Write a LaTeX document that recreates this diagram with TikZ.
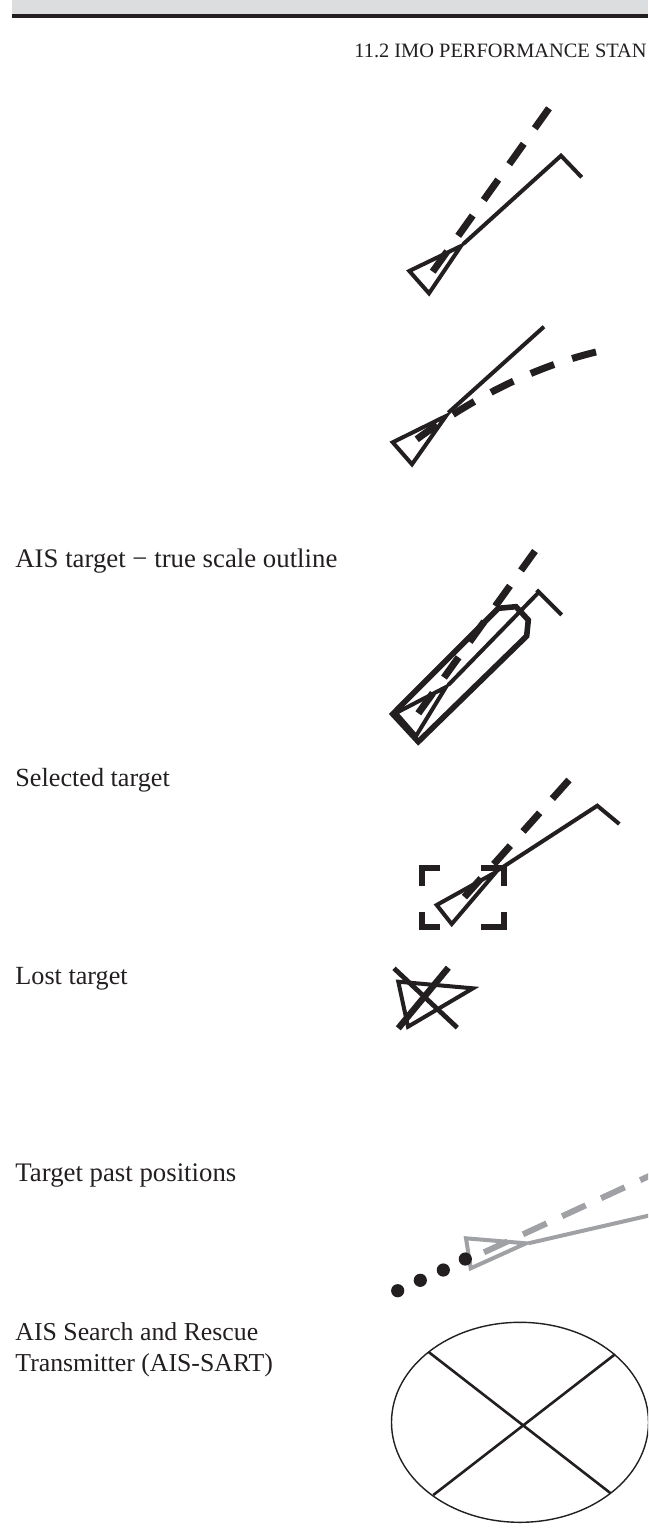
\documentclass[tikz,border=0pt]{standalone}
\usepackage{fontspec}
\setmainfont{Liberation Serif}
\usetikzlibrary{positioning}
\definecolor{bandgrey}{HTML}{DCDDDF}
\definecolor{inkblack}{HTML}{231F20}
\definecolor{pastgrey}{HTML}{A0A1A4}
\tikzset{
  solidline/.style={draw=inkblack,line width=2pt,line join=miter},
  dashline/.style={draw=inkblack,line width=3.5pt,dash pattern=on 12.5pt off 9.5pt},
  cornerbar/.style={draw=inkblack,line width=3.2pt},
  caption/.style={anchor=base west,inner sep=0pt,text=inkblack,font=\fontsize{13.4}{15.5}\selectfont,align=left}
}
% triangle corners, then the apex
\newcommand\ownship[3]{\draw[solidline] #1 -- #2 -- #3 -- cycle;}
\begin{document}
\begin{tikzpicture}[x=0.5pt,y=-0.5pt]
  \useasboundingbox (0,0) rectangle (648,1536);
  \clip (0,0) rectangle (648,1536);
  % page head
  \fill[bandgrey] (12,0) rectangle (648,14);
  \fill[inkblack] (12,14) rectangle (648,18);
  \node[caption,font=\fontsize{10.2}{12}\selectfont] (head) at (354,58) {11.2 IMO PERFORMANCE STAN};
  % left column
  \node[caption] (scaletext) at (15,567) {AIS target − true scale outline};
  \node[caption,font=\fontsize{13.1}{15.5}\selectfont] (selecttext) at (15,786) {Selected target};
  \node[caption,font=\fontsize{13.1}{15.5}\selectfont] (losttext) at (15,984) {Lost target};
  \node[caption] (pasttext) at (15,1181) {Target past positions};
  \node[caption,anchor=north west,font=\fontsize{12.9}{15.5}\selectfont] (sarttext) at (15,1322) {AIS Search and Rescue\\Transmitter (AIS-SART)};
  % activated target, right turn bar
  \ownship{(409.3,271)}{(429,293.3)}{(461,246)}
  \draw[solidline] (463.3,244) -- (561,155.7) -- (581.7,177.3);
  \draw[dashline] (432.7,271.7) -- (549,108.3);
  % activated target, path predictor
  \ownship{(392.7,442.3)}{(412,464.3)}{(446,416)}
  \draw[solidline] (448.3,412.7) -- (544,326.7);
  \draw[dashline] (416.7,439.3) .. controls (470,400) and (530,368) .. (596,352);
  % true scale outline
  \ownship{(396,713)}{(416,736)}{(446,687)}
  \draw[solidline] (448.3,685) -- (540,591);
  \draw[solidline] (536.7,590) -- (561.7,615);
  \draw[dashline] (418.3,713.3) -- (535,551);
  \draw[solidline,line width=2.8pt] (392.7,714) -- (498.3,608.3) -- (516,606.7) -- (528.3,620) -- (526.7,636) -- (418.3,741.7) -- cycle;
  % selected target
  \ownship{(436.7,905)}{(451.7,924)}{(496,872)}
  \draw[solidline] (498.3,870) -- (597.3,805.7) -- (619.3,824);
  \draw[dashline] (569,780) -- (463.3,898.3);
  \draw[cornerbar] (422,886) -- (422,868) -- (440,868);
  \draw[cornerbar] (481,868) -- (503.7,868) -- (503.7,886);
  \draw[cornerbar] (422,912) -- (422,927) -- (440,927);
  \draw[cornerbar] (481,927) -- (503.7,927) -- (503.7,912);
  % lost target
  \ownship{(398.3,981.7)}{(408,1026.7)}{(473,988.3)}
  \draw[draw=inkblack,line width=2.4pt] (394,968.3) -- (457.3,1027.7);
  \draw[draw=inkblack,line width=3.2pt] (448.3,967.7) -- (398.3,1028.3);
  % past positions
  \draw[solidline,draw=pastgrey] (466,1238.3) -- (470.7,1268.3) -- (526,1243.3) -- cycle;
  \draw[solidline,draw=pastgrey] (528.3,1243.3) -- (660,1213);
  \draw[dashline,draw=pastgrey,line width=3pt,dash pattern=on 13pt off 8.5pt] (484,1252.3) -- (660,1171);
  \foreach \dotx/\doty in {465.3/1259,443.3/1270,420.3/1280.3,397.7/1290.7}{
    \fill[inkblack] (\dotx,\doty) circle [radius=3.3pt];
  }
  % AIS-SART
  \draw[draw=inkblack,line width=0.7pt] (520,1422.3) ellipse [x radius=128.5,y radius=100];
  \draw[draw=inkblack,line width=1.3pt] (429,1352.3) -- (610.7,1493.3) (433.3,1495) -- (615,1354.3);
\end{tikzpicture}
\end{document}
